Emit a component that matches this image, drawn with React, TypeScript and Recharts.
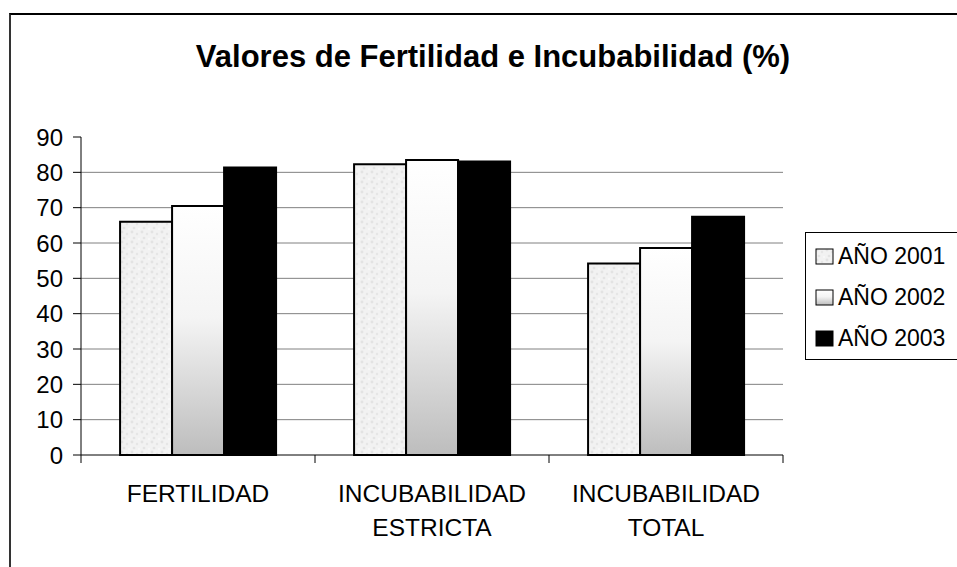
import React from "react";
import { BarChart, Bar, XAxis, YAxis, CartesianGrid } from "recharts";

const CATEGORIES = ["FERTILIDAD", "INCUBABILIDAD\nESTRICTA", "INCUBABILIDAD\nTOTAL"];
const ANO_2001 = [66.0, 82.3, 54.2];
const ANO_2002 = [70.5, 83.5, 58.6];
const ANO_2003 = [81.4, 83.1, 67.4];
const Y_TICKS = [0, 10, 20, 30, 40, 50, 60, 70, 80, 90];
const GRID_VALUES = [10, 20, 30, 40, 50, 60, 70, 80];

const SERIES = [
  { key: "a2001", name: "AÑO 2001", fill: "url(#speckle)" },
  { key: "a2002", name: "AÑO 2002", fill: "url(#fade)" },
  { key: "a2003", name: "AÑO 2003", fill: "#000000" },
];

const data = CATEGORIES.map((cat, i) => ({
  cat,
  a2001: ANO_2001[i],
  a2002: ANO_2002[i],
  a2003: ANO_2003[i],
}));

const FONT = "'Liberation Sans', Arial, sans-serif";

// category axis tick: label lines + tick marks at the band edges
const CatTick = (props: any) => {
  const { x, y, payload, index, width, visibleTicksCount } = props;
  const band = width / visibleTicksCount;
  const lines = String(payload.value).split("\n");
  const top = y - 10;
  return (
    <g>
      <line x1={x - band / 2} x2={x - band / 2} y1={top} y2={top + 8} stroke="#000" />
      {index === visibleTicksCount - 1 && (
        <line x1={x + band / 2} x2={x + band / 2} y1={top} y2={top + 8} stroke="#000" />
      )}
      <text x={x} y={y} textAnchor="middle" fontSize={24.5} fontFamily={FONT} fill="#000">
        {lines.map((l, i) => (
          <tspan key={i} x={x} y={y + 37 + i * 34}>
            {l}
          </tspan>
        ))}
      </text>
    </g>
  );
};

export default function App() {
  return (
    <div
      style={{
        position: "absolute",
        left: 0,
        top: 0,
        width: 957,
        height: 567,
        overflow: "hidden",
        background: "#fff",
        fontFamily: FONT,
      }}
    >
      {/* frame */}
      <div
        style={{
          position: "absolute",
          left: 9,
          top: 13,
          width: 1000,
          height: 600,
          borderTop: "2px solid #000",
          borderLeft: "2px solid #333",
        }}
      />
      <div
        style={{
          position: "absolute",
          left: 0,
          top: 39,
          width: 986,
          textAlign: "center",
          fontSize: 31,
          fontWeight: "bold",
          lineHeight: "36px",
        }}
      >
        Valores de Fertilidad e Incubabilidad (%)
      </div>

      <div style={{ position: "absolute", left: 0, top: 0 }}>
        <BarChart
          width={957}
          height={567}
          data={data}
          margin={{ top: 137, right: 174, bottom: 32, left: 0 }}
          barCategoryGap="16.7%"
          barGap={0}
        >
          <defs>
            <pattern id="speckle" width="10" height="10" patternUnits="userSpaceOnUse">
              <rect width="10" height="10" fill="#f2f2f2" />
              <circle cx="2" cy="2" r="1.4" fill="#e3e3e3" />
              <circle cx="7" cy="4" r="1.2" fill="#e6e6e6" />
              <circle cx="4" cy="8" r="1.3" fill="#e4e4e4" />
              <circle cx="9" cy="9" r="0.9" fill="#fafafa" />
            </pattern>
            <linearGradient id="fade" x1="0" y1="0" x2="0" y2="1">
              <stop offset="0%" stopColor="#ffffff" />
              <stop offset="45%" stopColor="#f4f4f4" />
              <stop offset="100%" stopColor="#bdbdbd" />
            </linearGradient>
          </defs>
          <CartesianGrid
            horizontal
            vertical={false}
            horizontalValues={GRID_VALUES}
            stroke="#808080"
            strokeWidth={1}
          />
          <XAxis
            dataKey="cat"
            interval={0}
            axisLine={{ stroke: "#000" }}
            tickLine={false}
            tickSize={8}
            tickMargin={2}
            height={80}
            tick={<CatTick />}
          />
          <YAxis
            type="number"
            domain={[0, 90]}
            ticks={Y_TICKS}
            interval={0}
            width={81}
            axisLine={{ stroke: "#000" }}
            tickLine={{ stroke: "#000" }}
            tickSize={8}
            tickMargin={10}
            tick={{ fontSize: 24, fill: "#000", fontFamily: FONT }}
          />
          {SERIES.map((s) => (
            <Bar
              key={s.key}
              dataKey={s.key}
              name={s.name}
              fill={s.fill}
              stroke="#000"
              strokeWidth={2}
              isAnimationActive={false}
            />
          ))}
        </BarChart>
      </div>

      {/* legend */}
      <div
        style={{
          position: "absolute",
          left: 805,
          top: 232,
          width: 200,
          height: 128,
          border: "1px solid #000",
          boxSizing: "border-box",
          paddingTop: 3,
          paddingLeft: 9,
        }}
      >
        {SERIES.map((s) => (
          <div
            key={s.key}
            style={{ display: "flex", alignItems: "center", height: 41, fontSize: 23 }}
          >
            <svg width={20} height={17} style={{ marginRight: 3 }}>
              <rect x={1} y={1} width={17} height={15} fill={s.fill} stroke="#000" strokeWidth={1} />
            </svg>
            <span>{s.name}</span>
          </div>
        ))}
      </div>
    </div>
  );
}
